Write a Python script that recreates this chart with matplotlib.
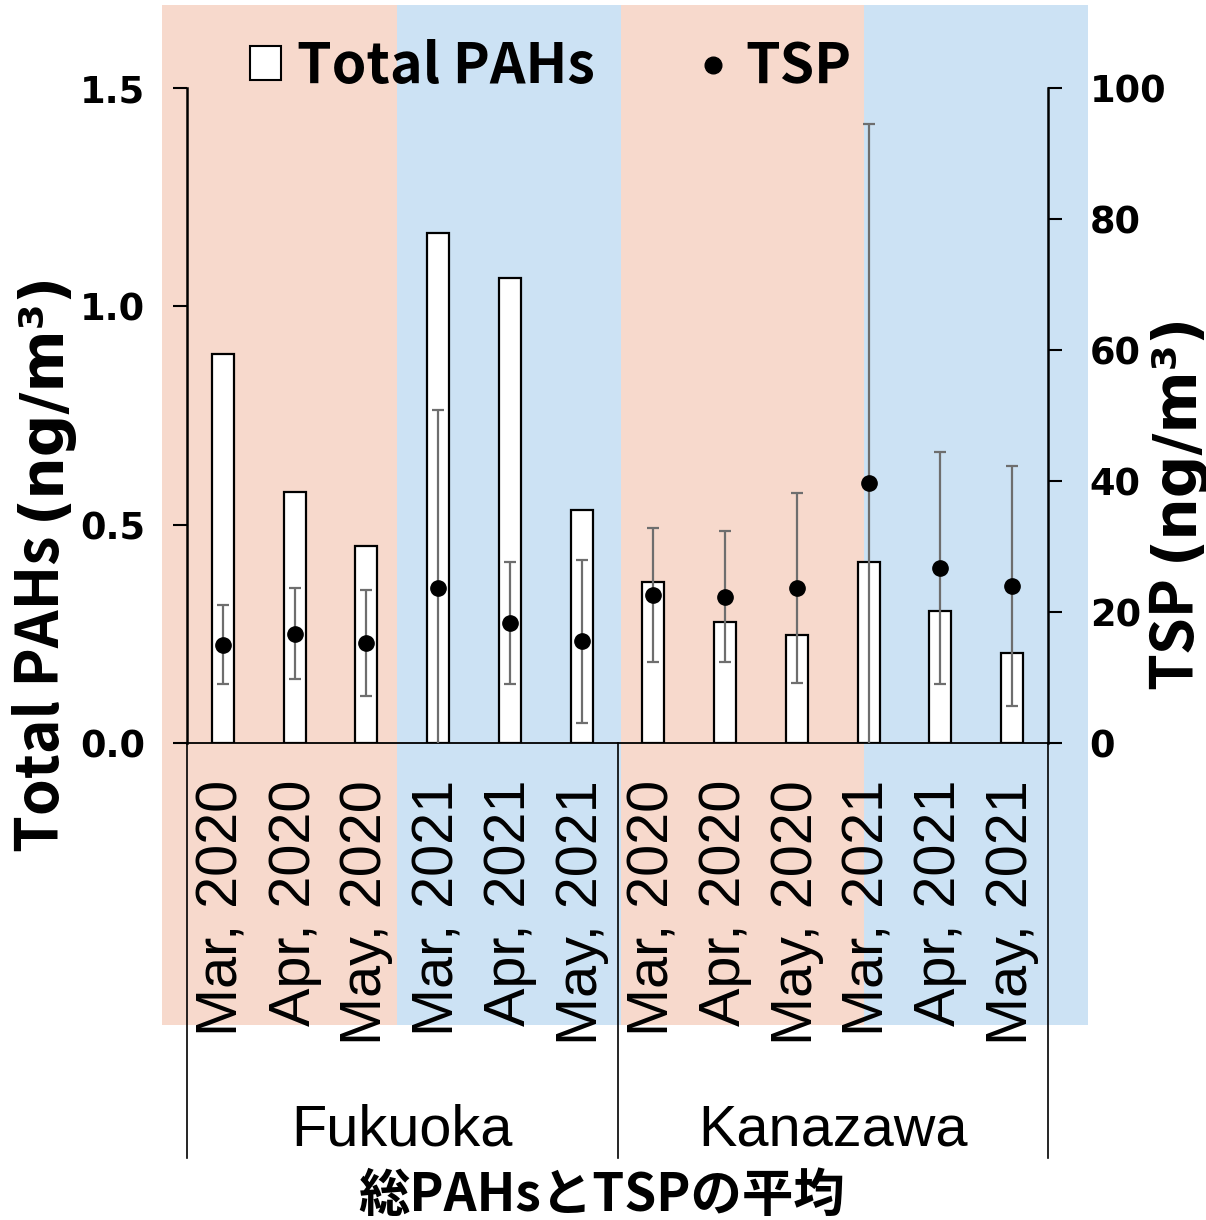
import numpy as np
import matplotlib
matplotlib.use("Agg")
import matplotlib.pyplot as plt
import matplotlib.transforms as mtransforms
from matplotlib.patches import Rectangle
from matplotlib.lines import Line2D
from matplotlib.ticker import FormatStrFormatter

# ---- data ----
cities = ["Fukuoka", "Kanazawa"]
months = ["Mar, 2020", "Apr, 2020", "May, 2020", "Mar, 2021", "Apr, 2021", "May, 2021"]
categories = months * len(cities)
total_pahs = [0.891, 0.575, 0.451, 1.168, 1.066, 0.534,
              0.368, 0.278, 0.248, 0.414, 0.302, 0.207]          # ng/m3
tsp_mean = [15.0, 16.7, 15.2, 23.7, 18.3, 15.5,
            22.6, 22.3, 23.6, 39.7, 26.7, 24.0]                   # ng/m3
tsp_err = [6.0, 6.9, 8.1, 27.2, 9.3, 12.5,
           10.2, 10.0, 14.5, 54.8, 17.7, 18.3]
left_ticks = [0.0, 0.5, 1.0, 1.5]
right_ticks = [0, 20, 40, 60, 80, 100]

# ---- layout helpers (pixel -> figure fraction) ----
W, H = 1206, 1220
fig = plt.figure(figsize=(W / 100, H / 100), dpi=100)


def fx(px):
    return px / W


def fy(py):
    return 1 - py / H


SALMON = "#F7D9CC"
BLUE = "#CCE2F4"
GRAY = "#6E6E6E"
CJK = ["Noto Sans CJK JP", "DejaVu Sans"]
TICK_SIZE = 26.5

# background period bands
band_edges = [162, 397, 621, 864, 1088]
band_colors = [SALMON, BLUE, SALMON, BLUE]
for x0, x1, c in zip(band_edges[:-1], band_edges[1:], band_colors):
    fig.add_artist(Rectangle((fx(x0), fy(1025)), fx(x1) - fx(x0), fy(5) - fy(1025),
                             transform=fig.transFigure, facecolor=c,
                             edgecolor="none", zorder=-10))

# main axes
ax_left, ax_right, ax_top, ax_bottom = 187, 1048, 88, 743
ax = fig.add_axes([fx(ax_left), fy(ax_bottom), fx(ax_right) - fx(ax_left),
                   fy(ax_top) - fy(ax_bottom)])
ax.set_facecolor("none")

x = np.arange(len(categories))
ax.bar(x, total_pahs, width=0.31, color="white", edgecolor="black",
       linewidth=1.6, zorder=2)
ax.set_xlim(-0.5, len(categories) - 0.5)
ax.set_ylim(0, 1.5)
ax.set_yticks(left_ticks)
ax.yaxis.set_major_formatter(FormatStrFormatter("%.1f"))
ax.tick_params(axis="y", direction="out", length=10, width=1.5, pad=20,
               labelsize=TICK_SIZE)
for lbl in ax.get_yticklabels():
    lbl.set_fontweight("bold")
    lbl.set_family("DejaVu Sans")

ax.set_xticks(x)
ax.set_xticklabels(categories, rotation=90, fontsize=41.5,
                   family="Liberation Sans")
ax.tick_params(axis="x", length=0, pad=26.5)

for s in ["top", "right"]:
    ax.spines[s].set_visible(False)
ax.spines["left"].set_linewidth(1.8)
ax.spines["bottom"].set_linewidth(1.3)

# TSP on the secondary axis
ax2 = ax.twinx()
ax2.set_ylim(0, 100)
ax2.set_yticks(right_ticks)
ax2.errorbar(x, tsp_mean, yerr=tsp_err, fmt="o", color="black", ms=11,
             ecolor=GRAY, elinewidth=1.6, capsize=4.5, capthick=1.6, zorder=3)
ax2.tick_params(axis="y", direction="out", length=10, width=1.5, pad=20,
                labelsize=TICK_SIZE)
for lbl in ax2.get_yticklabels():
    lbl.set_fontweight("bold")
    lbl.set_family("DejaVu Sans")
for s in ["top", "left", "bottom"]:
    ax2.spines[s].set_visible(False)
ax2.spines["right"].set_linewidth(1.8)

# group separators and city labels below the month labels
trans = mtransforms.blended_transform_factory(ax.transData, ax.transAxes)
axes_h = ax_bottom - ax_top
sep_bottom = (ax_bottom - 1158) / axes_h
n = len(months)
for xs in [-0.5, n - 0.5, 2 * n - 0.5]:
    ax.plot([xs, xs], [0, sep_bottom], transform=trans, color="black",
            lw=1.2, clip_on=False)
for i, city in enumerate(cities):
    ax.text(i * n + (n - 1) / 2, (ax_bottom - 1145) / axes_h, city,
            transform=trans, ha="center", va="baseline", fontsize=41.5,
            family="Liberation Sans")

# legend
handles = [Rectangle((0, 0), 1, 1, facecolor="white", edgecolor="black", lw=1.5),
           Line2D([], [], marker="o", color="black", ls="none", ms=12)]
fig.legend(handles, ["Total PAHs", "TSP"], ncol=2, frameon=False,
           loc="center left", bbox_to_anchor=(fx(250), fy(67)),
           bbox_transform=fig.transFigure, borderpad=0, borderaxespad=0,
           handlelength=0.56, handleheight=0.56, handletextpad=0.29,
           columnspacing=1.85,
           prop={"family": CJK, "weight": "bold", "size": 40})


# rotated axis titles: name in the CJK face, unit part in DejaVu Sans Bold
def axis_title(x_base, y_start, name, unit, name_size=42.5, unit_size=43,
               gap=15):
    t1 = fig.text(fx(x_base), fy(y_start), name, rotation=90,
                  rotation_mode="anchor", ha="left", va="baseline",
                  fontsize=name_size, fontweight="bold", family=CJK)
    renderer = fig.canvas.get_renderer()
    length = t1.get_window_extent(renderer).height
    fig.text(fx(x_base), fy(y_start - length - gap), unit, rotation=90,
             rotation_mode="anchor", ha="left", va="baseline",
             fontsize=unit_size, fontweight="bold", family=["DejaVu Sans"])


axis_title(59, 852, "Total PAHs", "(ng/m³)")
axis_title(1192, 689, "TSP", "(ng/m³)")

fig.text(fx(602), fy(1195), "総PAHsとTSPの平均", ha="center", va="center",
         fontsize=37, fontweight="bold", family=CJK)

fig.savefig("out.png", dpi=100, facecolor="white")
